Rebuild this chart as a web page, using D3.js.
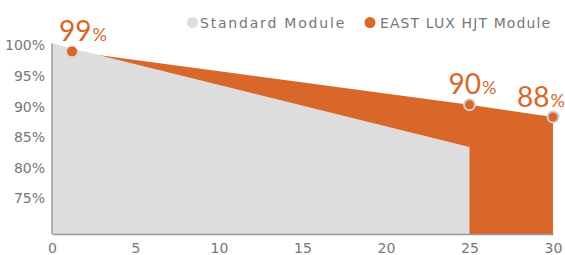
<!DOCTYPE html>
<html>
<head>
<meta charset="utf-8">
<script src="https://cdn.jsdelivr.net/npm/d3@7"></script>
<style>
  body { margin: 0; background: #fff; }
  svg { display: block; font-family: "DejaVu Sans", sans-serif; }
</style>
</head>
<body>
<svg id="chart" width="565" height="255"></svg>
<script>
// data
let years = [0, 5, 10, 15, 20, 25, 30];
let yTicks = [75, 80, 85, 90, 95, 100];
let standardYears = [0, 25];
let standardValues = [100, 83.1];
let luxYears = [0, 1.2, 25, 30];
let luxValues = [100, 98.7, 90, 88];
let labelIdx = [1, 2, 3];
let labelText = ["99", "90", "88"];
let seriesNames = ["Standard Module", "EAST LUX HJT Module"];

let gray = "#dcdddc", orange = "#d9672a", textGray = "#777";
let yMin = 68.9;

let svg = d3.select("#chart");

let x = d3.scaleLinear().domain([0, 30]).range([52, 553]);
let y = d3.scaleLinear().domain([yMin, 100]).range([234, 43.5]);

let lux = luxYears.map((d, i) => ({x: d, v: luxValues[i]}));
let std = standardYears.map((d, i) => ({x: d, v: standardValues[i]}));

let area = d3.area()
  .x(d => x(d.x))
  .y0(y(yMin))
  .y1(d => y(d.v));

// orange behind, gray in front
svg.append("path").datum(lux).attr("d", area).attr("fill", orange);
svg.append("path").datum(std).attr("d", area).attr("fill", gray);

// axes
let yAxis = svg.append("g").attr("transform", "translate(" + x(0) + ",0)")
  .call(d3.axisLeft(y).tickValues(yTicks).tickSize(0).tickPadding(7).tickFormat(d => d + "%"));
yAxis.select(".domain").attr("stroke", "#999").attr("stroke-width", 1.5).attr("d", "M0," + y(100) + "V" + y(yMin));
yAxis.selectAll("text").attr("fill", textGray).style("font-size", "14px").attr("dy", "0.45em")
  .style("font-family", "DejaVu Sans");

let xAxis = svg.append("g").attr("transform", "translate(0," + y(yMin) + ")")
  .call(d3.axisBottom(x).tickValues(years).tickSize(0).tickPadding(9));
xAxis.select(".domain").attr("stroke", "#999").attr("stroke-width", 1.5);
xAxis.selectAll("text").attr("fill", textGray).style("font-size", "14px")
  .style("font-family", "DejaVu Sans");

// dots
svg.selectAll(".dot")
  .data(labelIdx.map(i => lux[i]))
  .enter()
  .append("circle")
  .attr("class", "dot")
  .attr("cx", d => x(d.x))
  .attr("cy", d => y(d.v))
  .attr("r", 5.5)
  .attr("fill", orange)
  .attr("stroke", (d, i) => i == 0 ? "#f0d8c8" : "#cfcfcf")
  .attr("stroke-width", (d, i) => i == 0 ? 1 : 2);

// value labels
let dxs = [-13, -21, -36];
let labels = svg.selectAll(".vlabel")
  .data(labelIdx.map(i => lux[i]))
  .enter()
  .append("text")
  .attr("class", "vlabel")
  .attr("x", (d, i) => x(d.x) + dxs[i])
  .attr("y", d => y(d.v) - 10.5)
  .attr("fill", orange)
  .style("font-family", "Lato, sans-serif");
labels.append("tspan").style("font-size", "28px").text((d, i) => labelText[i]);
labels.append("tspan").style("font-size", "18px").attr("dx", 1).text("%");

// legend
let legend = svg.append("g");
let legX = [192.5, 370], textX = [200, 380], spacing = [1.8, 1.1];
seriesNames.forEach((name, i) => {
  legend.append("circle").attr("cx", legX[i]).attr("cy", 22.5).attr("r", 5.5)
    .attr("fill", i == 0 ? gray : orange);
  legend.append("text").attr("x", textX[i]).attr("y", 27.5)
    .attr("fill", textGray).style("font-size", "14px")
    .style("letter-spacing", spacing[i] + "px")
    .text(name);
});
</script>
</body>
</html>
